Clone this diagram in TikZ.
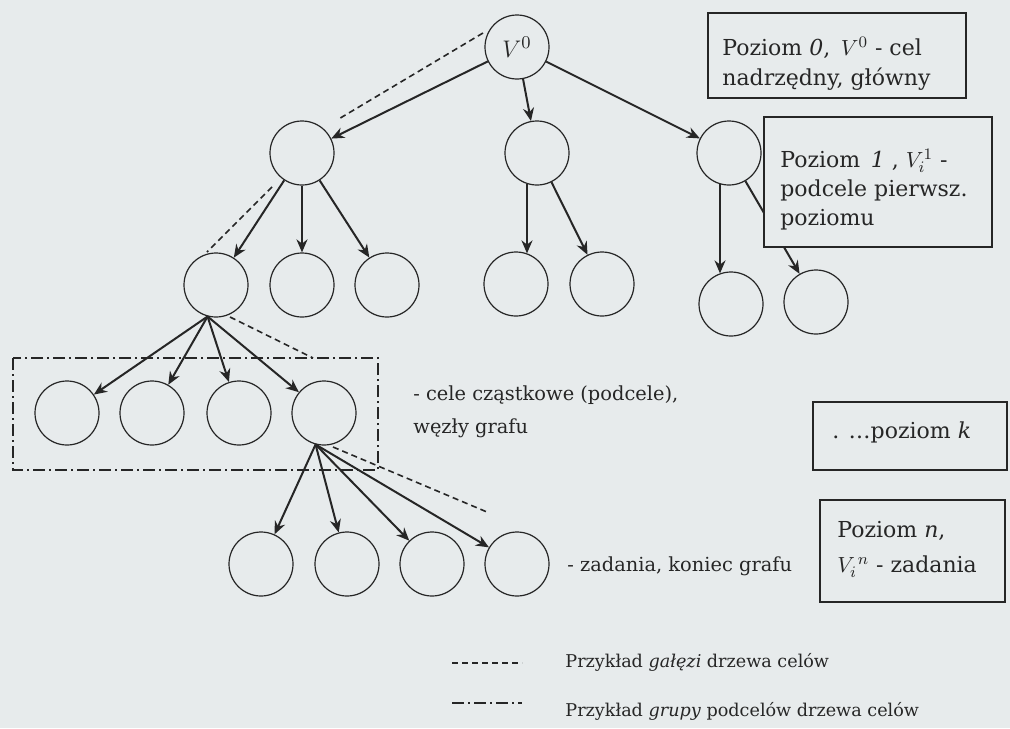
\documentclass[tikz,border=0pt]{standalone}
\usepackage{fontspec}
\setmainfont{DejaVu Serif}
\usepackage{tikz}
\usetikzlibrary{arrows.meta,calc}
\definecolor{paper}{RGB}{231,235,236}
\definecolor{ink}{RGB}{38,38,38}

\begin{document}
\begin{tikzpicture}[x=0.5pt, y=-0.5pt, draw=ink, text=ink,
  goal/.style={circle, draw, line width=0.6pt, minimum size=32pt, inner sep=0pt},
  arr/.style={line width=1pt, -{Stealth[length=6.5pt,width=5.5pt]}},
  branch/.style={line width=0.8pt, dash pattern=on 3pt off 2pt},
  group/.style={line width=0.8pt, dash pattern=on 6pt off 2pt on 1pt off 2pt},
  levelbox/.style={draw, line width=0.75pt, fill=paper},
  boxtext/.style={font=\fontsize{11}{15}\selectfont, align=left, anchor=base west, inner sep=0pt},
  note/.style={font=\fontsize{9.7}{16.5}\selectfont, align=left, anchor=base west, inner sep=0pt},
  legend/.style={font=\fontsize{8.8}{11}\selectfont, anchor=base west, inner sep=0pt}]
		% paper
		\fill[paper] (0,0) rectangle (1010,728);
		% root
		\node[goal, font=\fontsize{13}{13}\selectfont] (V0) at (517,47) {$V^0$};
		% level 1
		\node[goal] (L1a) at (302,153) {};
		\node[goal] (L1b) at (537,153) {};
		\node[goal] (L1c) at (729,153) {};
		% level 2
		\node[goal] (L2a) at (216,285) {};
		\node[goal] (L2b) at (302,285) {};
		\node[goal] (L2c) at (387,285) {};
		\node[goal] (L2d) at (516,284) {};
		\node[goal] (L2e) at (602,284) {};
		\node[goal] (L2f) at (731,304) {};
		\node[goal] (L2g) at (816,302) {};
		% level k
		\node[goal] (L3a) at (67,413) {};
		\node[goal] (L3b) at (152,413) {};
		\node[goal] (L3c) at (239,413) {};
		\node[goal] (L3d) at (324,413) {};
		% level n
		\node[goal] (L4a) at (261,564) {};
		\node[goal] (L4b) at (347,564) {};
		\node[goal] (L4c) at (432,564) {};
		\node[goal] (L4d) at (517,564) {};
		% edges
		\draw[arr] (V0) -- (L1a);
		\draw[arr] (V0) -- (L1b);
		\draw[arr] (V0) -- (L1c);
		\draw[arr] (L1a) -- (L2a);
		\draw[arr] (L1a) -- (L2b);
		\draw[arr] (L1a) -- (L2c);
		\draw[arr] ($(L1b.south)+(-10,-2)$) -- ($(L2d.north)+(11,2)$);
		\draw[arr] (L1b) -- (L2e);
		\draw[arr] ($(L1c.south)+(-9,-2)$) -- ($(L2f.north)+(-11,2)$);
		\draw[arr] (L1c) -- (L2g);
		\draw[arr] (L2a.-105) -- (L3a);
		\draw[arr] (L2a.-105) -- (L3b);
		\draw[arr] (L2a.-105) -- (L3c);
		\draw[arr] (L2a.-105) -- (L3d);
		\draw[arr] (L3d.-105) -- (L4a);
		\draw[arr] (L3d.-105) -- (L4b);
		\draw[arr] (L3d.-105) -- (L4c);
		\draw[arr] (L3d.-105) -- (L4d);
		% branch
		\draw[branch] ($(V0)+(-34,-14)$) -- ($(L1a)+(35,-33)$);
		\draw[branch] ($(L1a)+(-30,34)$) -- ($(L2a)+(-9,-33)$);
		\draw[branch] ($(L2a)+(14,32)$) -- ($(L3d)+(-11,-55)$);
		\draw[branch] ($(L3d)+(9,34)$) -- ($(L4d)+(-30,-52)$);
		% group
		\draw[group] (13,358) rectangle (378,470);
		\node[note] (noteGroup) at (413,433) {- cele cząstkowe (podcele),\\węzły grafu};
		\node[note] (noteTask) at (567,571) {- zadania, koniec grafu};
		% levels
		\draw[levelbox] (708,13) rectangle (966,98);
		\node[boxtext] (lvl0) at (722,85) {Poziom \textit{0}, \,$V^0$ - cel\\nadrzędny, główny};
		\draw[levelbox] (764,117) rectangle (992,247);
		\node[boxtext, font=\fontsize{11}{14.5}\selectfont] (lvl1) at (780,225) {Poziom \,\textit{1} , $V_i^1$ -\\podcele pierwsz.\\poziomu};
		\draw[levelbox] (813,402) rectangle (1007,470);
		\node[boxtext] (lvlk) at (832,438) {. \dots poziom \textit{k}};
		\draw[levelbox] (820,500) rectangle (1005,602);
		\node[boxtext, font=\fontsize{11}{17.5}\selectfont] (lvln) at (837,572) {Poziom \textit{n},\\$V_i^{\,n}$ - zadania};
		% legend
		\coordinate (lgBranch) at (452,663);
		\coordinate (lgGroup) at (452,703);
		\draw[branch] (lgBranch) -- ++(70,0);
		\draw[group] (lgGroup) -- ++(70,0);
		\node[legend] (legBranch) at (565,667) {Przykład \textit{gałęzi} drzewa celów};
		\node[legend] (legGroup) at (565,716) {Przykład \textit{grupy} podcelów drzewa celów};
	\end{tikzpicture}
\end{document}
